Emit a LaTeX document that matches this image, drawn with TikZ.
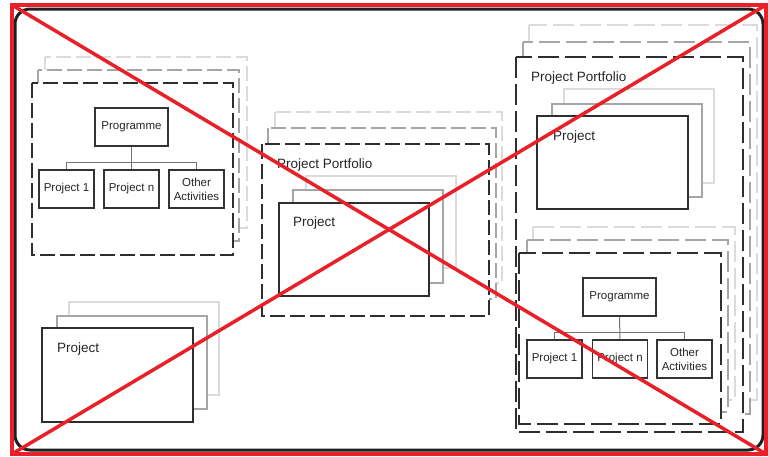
\documentclass[tikz,border=0pt]{standalone}
\usepackage{fontspec}
\setmainfont{Liberation Sans}

\begin{document}
\begin{tikzpicture}[x=1pt,y=-1pt,
  back/.style={draw=black!14, line width=1.5pt, fill=white},
  mid/.style={draw=black!35, line width=1.5pt, fill=white},
  front/.style={draw=black!82, line width=1.5pt, fill=white},
  dashes/.style={dash pattern=on 15pt off 5pt},
  longdashes/.style={dash pattern=on 21pt off 6pt},
  box/.style={draw=black!80, line width=1.2pt, fill=white, minimum height=38pt,
    inner sep=1pt, align=center, text=black!85, font=\fontsize{11.5}{14}\selectfont},
  link/.style={draw=black!55, line width=1pt},
  lbl/.style={anchor=west, inner sep=0pt, text=black!85, font=\fontsize{13.5}{16}\selectfont},
  cross/.style={draw={rgb,255:red,232;green,32;blue,42}, line width=3.5pt}
]
\useasboundingbox (0,0) rectangle (768,456);
\fill[white] (0,0) rectangle (768,456);

% outer frame
\draw[line width=3pt, draw=black!88, rounded corners=15pt] (15,9) rectangle (763,450);

% programme (top left)
\begin{scope}
\draw[back,dashes] (45,57) rectangle (247,228);
\draw[mid,dashes] (38,70) rectangle (239,241);
\draw[front,dashes] (32,83) rectangle (233,255);
\node[box, minimum width=73pt] (prog1) at (131.5,127) {Programme};
\node[box, minimum width=55pt] (proj1a) at (66.5,189) {Project 1};
\node[box, minimum width=55pt] (projna) at (131.5,189) {Project n};
\node[box, minimum width=55pt] (othera) at (196.5,189) {Other\\Activities};
\path[link] (prog1.south) -- (projna.north);
\path[link] (proj1a.north) -- ++(0,-7) -| (othera.north);
\end{scope}

% portfolio (middle)
\begin{scope}
\draw[back,dashes] (275,112) rectangle (502,283);
\draw[mid,dashes] (268,128) rectangle (496,299);
\draw[front,dashes] (262,144) rectangle (489,316);
\node[lbl] (port2) at (277,165) {Project Portfolio};
\draw[back] (306,176) rectangle (456,268);
\draw[mid] (293,190) rectangle (443,283);
\draw[front] (279,203) rectangle (429,296);
\node[lbl] (proj2) at (293,223) {Project};
\end{scope}

% portfolio with project and programme (right)
\begin{scope}
\draw[back,longdashes] (529,25) rectangle (757,400);
\draw[mid,longdashes] (523,42) rectangle (750,414);
\draw[front,longdashes] (516,57) rectangle (743,432);
\node[lbl] (port3) at (531,78) {Project Portfolio};
\draw[back] (564,89) rectangle (714,183);
\draw[mid] (552,104) rectangle (702,197);
\draw[front] (537,116) rectangle (688,209);
\node[lbl] (proj3) at (553,137) {Project};
\draw[back,longdashes] (533,227) rectangle (735,400);
\draw[mid,longdashes] (527,240) rectangle (728,412);
\draw[front,longdashes] (519,253) rectangle (721,424);
\node[box, minimum width=73pt] (prog3) at (619.5,297) {Programme};
\node[box, minimum width=55pt] (proj1b) at (554.5,359) {Project 1};
\node[box, minimum width=55pt] (projnb) at (620,359) {Project n};
\node[box, minimum width=55pt] (otherb) at (684.5,359) {Other\\Activities};
\path[link] (prog3.south) -- (projnb.north);
\path[link] (proj1b.north) -- ++(0,-7) -| (otherb.north);
\end{scope}

% single project (bottom left)
\begin{scope}
\draw[back] (69,302) rectangle (219,395);
\draw[mid] (57,316) rectangle (207,409);
\draw[front] (42,328) rectangle (193,422);
\node[lbl] (proj4) at (57,349) {Project};
\end{scope}

% red cross
\coordinate (tl) at (12,5);
\coordinate (tr) at (766,5);
\coordinate (bl) at (12,454);
\coordinate (br) at (766,454);
\draw[cross] (tl) rectangle (br);
\draw[cross] (tl) -- (br);
\draw[cross] (bl) -- (tr);
\end{tikzpicture}
\end{document}
